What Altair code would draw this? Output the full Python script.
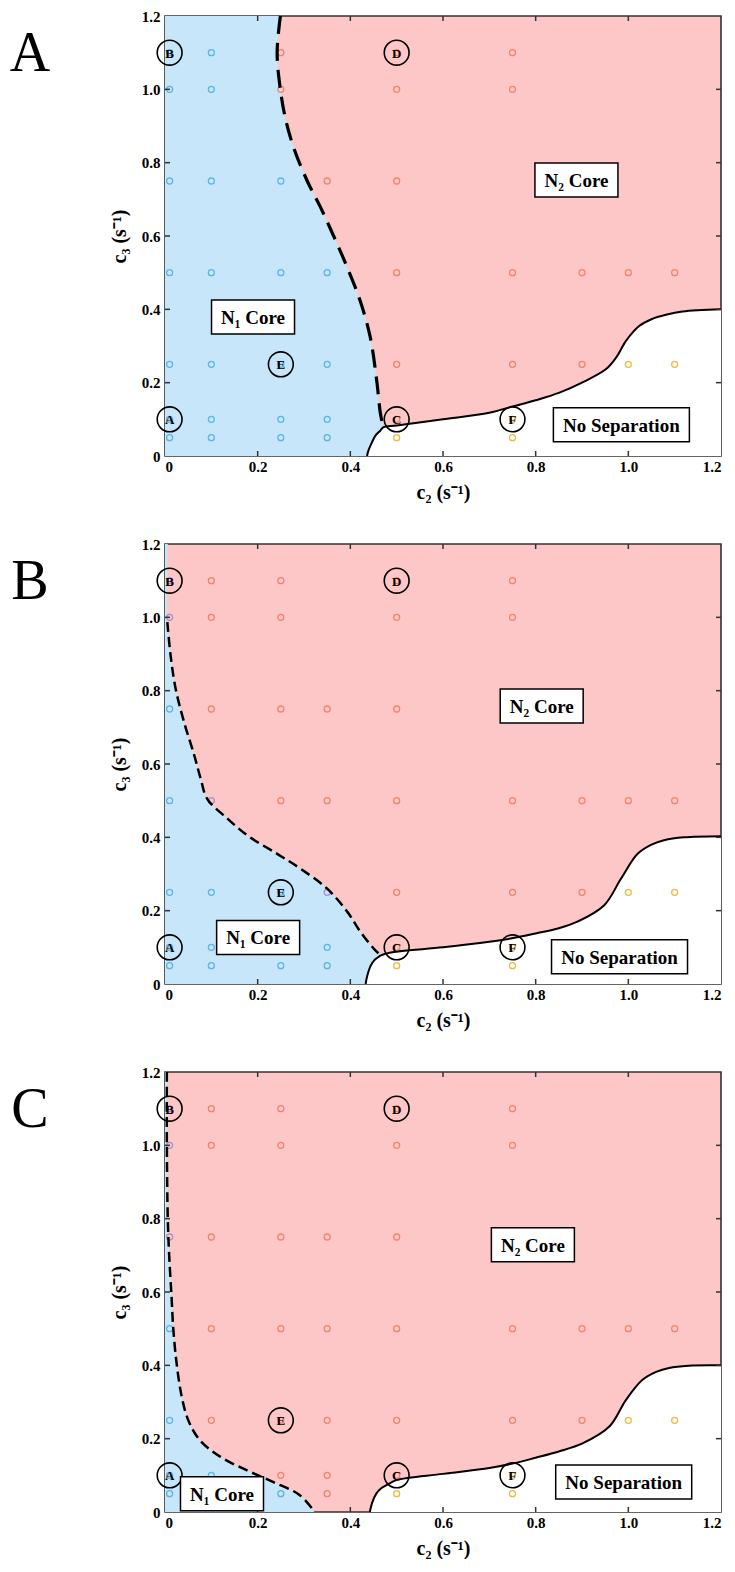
import altair as alt
import pandas as pd

# ---------------- data ----------------
axis_values = [0, 0.2, 0.4, 0.6, 0.8, 1.0, 1.2]
tick_values = [0.2, 0.4, 0.6, 0.8, 1.0]

# N1 / N2 boundary (dashed)
dash_A_c2 = [0.249, 0.242, 0.249, 0.26, 0.278, 0.307, 0.335, 0.371, 0.393, 0.421, 0.443, 0.457, 0.465, 0.471]
dash_A_c3 = [1.2, 1.1, 1.0, 0.92, 0.84, 0.75, 0.68, 0.58, 0.515, 0.424, 0.324, 0.205, 0.115, 0.078]
dash_B_c2 = [0.005, 0.012, 0.023, 0.041, 0.063, 0.077, 0.091, 0.135, 0.178, 0.242, 0.293, 0.35, 0.394, 0.422, 0.451, 0.466]
dash_B_c3 = [0.987, 0.897, 0.805, 0.715, 0.624, 0.56, 0.505, 0.451, 0.405, 0.355, 0.314, 0.26, 0.196, 0.142, 0.096, 0.078]
dash_C_c2 = [0.004, 0.004, 0.006, 0.009, 0.014, 0.018, 0.025, 0.036, 0.05, 0.075, 0.119, 0.176, 0.233, 0.291, 0.323]
dash_C_c3 = [1.2, 1.0, 0.8, 0.7, 0.589, 0.498, 0.406, 0.315, 0.251, 0.196, 0.151, 0.114, 0.082, 0.046, 0.0]

# extra vertices that close the N1 region (top / bottom)
n1_top_A_c2, n1_top_A_c3 = [], []
n1_bot_A_c2, n1_bot_A_c3 = [0.48], [0.0]
n1_top_B_c2, n1_top_B_c3 = [0.006], [1.2]
n1_bot_B_c2, n1_bot_B_c3 = [0.47], [0.0]
n1_top_C_c2, n1_top_C_c3 = [], []
n1_bot_C_c2, n1_bot_C_c3 = [], []

# separation boundary (solid) - below it: no separation
sep_A_c2 = [0.436, 0.439, 0.4466, 0.4538, 0.4645, 0.471, 0.5, 0.6, 0.7, 0.75, 0.8, 0.85, 0.9, 0.952, 0.974, 0.995, 1.024, 1.05, 1.081, 1.117, 1.2]
sep_A_c3 = [0.0, 0.0145, 0.037, 0.055, 0.069, 0.078, 0.083, 0.1, 0.118, 0.135, 0.152, 0.172, 0.2, 0.237, 0.269, 0.314, 0.355, 0.373, 0.385, 0.394, 0.40]
sep_B_c2 = [0.433, 0.436, 0.444, 0.452, 0.46, 0.466, 0.494, 0.6, 0.7, 0.746, 0.8, 0.85, 0.89, 0.948, 0.984, 1.02, 1.05, 1.077, 1.12, 1.2]
sep_B_c3 = [0.0, 0.02, 0.05, 0.065, 0.073, 0.078, 0.087, 0.1, 0.115, 0.124, 0.138, 0.152, 0.17, 0.215, 0.287, 0.355, 0.38, 0.392, 0.40, 0.403]
sep_C_c2 = [0.442, 0.447, 0.456, 0.466, 0.478, 0.499, 0.6, 0.7, 0.75, 0.8, 0.85, 0.901, 0.959, 0.995, 1.03, 1.06, 1.088, 1.13, 1.2]
sep_C_c3 = [0.0, 0.025, 0.05, 0.064, 0.073, 0.087, 0.104, 0.12, 0.132, 0.148, 0.165, 0.187, 0.233, 0.306, 0.36, 0.382, 0.393, 0.399, 0.40]

# simulation points
pt_c2 = [0.01, 0.1, 0.25, 0.5, 0.75,
         0.01, 0.1, 0.25, 0.5, 0.75,
         0.01, 0.1, 0.25, 0.35, 0.5,
         0.01, 0.1, 0.25, 0.35, 0.5, 0.75, 0.9, 1.0, 1.1,
         0.01, 0.1, 0.25, 0.35, 0.5, 0.75, 0.9, 1.0, 1.1,
         0.01, 0.1, 0.25, 0.35, 0.5, 0.75,
         0.01, 0.1, 0.25, 0.35, 0.5, 0.75]
pt_c3 = [1.1, 1.1, 1.1, 1.1, 1.1,
         1.0, 1.0, 1.0, 1.0, 1.0,
         0.75, 0.75, 0.75, 0.75, 0.75,
         0.5, 0.5, 0.5, 0.5, 0.5, 0.5, 0.5, 0.5, 0.5,
         0.25, 0.25, 0.25, 0.25, 0.25, 0.25, 0.25, 0.25, 0.25,
         0.1, 0.1, 0.1, 0.1, 0.1, 0.1,
         0.05, 0.05, 0.05, 0.05, 0.05, 0.05]
cls_A = ["N1", "N1", "N2", "N2", "N2",
         "N1", "N1", "N2", "N2", "N2",
         "N1", "N1", "N1", "N2", "N2",
         "N1", "N1", "N1", "N1", "N2", "N2", "N2", "N2", "N2",
         "N1", "N1", "N1", "N1", "N2", "N2", "N2", "NS", "NS",
         "N1", "N1", "N1", "N1", "N2", "NS",
         "N1", "N1", "N1", "N1", "NS", "NS"]
cls_B = ["MX", "N2", "N2", "N2", "N2",
         "MX", "N2", "N2", "N2", "N2",
         "N1", "N2", "N2", "N2", "N2",
         "N1", "MX", "N2", "N2", "N2", "N2", "N2", "N2", "N2",
         "N1", "N1", "N1", "MX", "N2", "N2", "N2", "NS", "NS",
         "N1", "N1", "N1", "N1", "N2", "NS",
         "N1", "N1", "N1", "N1", "NS", "NS"]
cls_C = ["MX", "N2", "N2", "N2", "N2",
         "MX", "N2", "N2", "N2", "N2",
         "MX", "N2", "N2", "N2", "N2",
         "N1", "N2", "N2", "N2", "N2", "N2", "N2", "N2", "N2",
         "N1", "N2", "N2", "N2", "N2", "N2", "N2", "NS", "NS",
         "N1", "N1", "N2", "N2", "N2", "NS",
         "N1", "N1", "N1", "N2", "NS", "NS"]
cls_domain = ["N1", "N2", "NS", "MX"]
cls_colors = ["#5db4e6", "#f0846f", "#f4b740", "#b38bc9"]

# circled case labels
mk_label = ["A", "B", "C", "D", "E", "F"]
mk_c2 = [0.01, 0.01, 0.5, 0.5, 0.25, 0.75]
mk_c3 = [0.1, 1.1, 0.1, 1.1, 0.25, 0.1]

# region label boxes
box_label = ["N\u2081 Core", "N\u2082 Core", "No Separation"]
box_kind = ["core", "core", "nosep"]
box_A_c2 = [0.19, 0.888, 0.985]
box_A_c3 = [0.379, 0.753, 0.085]
box_B_c2 = [0.201, 0.813, 0.981]
box_B_c3 = [0.127, 0.758, 0.074]
box_C_c2 = [0.123, 0.794, 0.99]
box_C_c3 = [0.05, 0.729, 0.082]

panel_letters = ["A", "B", "C"]

# ---------------- style ----------------
FONT = "Liberation Serif"
W, H = 556, 440
BLUE_FILL = "#c7e6fa"
PINK_FILL = "#fec7c7"
FRAME = "#333333"
CURVE = "catmull-rom"
dash_style = {"A": [18, 9], "B": [10, 5], "C": [10, 5]}
dash_width = {"A": 3.2, "B": 2.5, "C": 2.5}

xs = alt.Scale(domain=[0, 1.2], nice=False, zero=False)
ys = alt.Scale(domain=[0, 1.2], nice=False, zero=False)
label_expr = "datum.value == 0 ? '0' : format(datum.value, '.1f')"
x_axis = alt.Axis(values=axis_values, title="c\u2082 (s\u207b\u00b9)", labelExpr=label_expr)
y_axis = alt.Axis(values=axis_values, title="c\u2083 (s\u207b\u00b9)", labelExpr=label_expr)


def X():
    return alt.X("c2:Q", scale=xs, axis=x_axis)


def Y():
    return alt.Y("c3:Q", scale=ys, axis=y_axis)


def frame_df(c2, c3):
    return pd.DataFrame({"c2": c2, "c3": c3, "i": list(range(len(c2)))})


data = {
    "A": dict(dash=(dash_A_c2, dash_A_c3), top=(n1_top_A_c2, n1_top_A_c3), bot=(n1_bot_A_c2, n1_bot_A_c3),
              sep=(sep_A_c2, sep_A_c3), cls=cls_A, box=(box_A_c2, box_A_c3)),
    "B": dict(dash=(dash_B_c2, dash_B_c3), top=(n1_top_B_c2, n1_top_B_c3), bot=(n1_bot_B_c2, n1_bot_B_c3),
              sep=(sep_B_c2, sep_B_c3), cls=cls_B, box=(box_B_c2, box_B_c3)),
    "C": dict(dash=(dash_C_c2, dash_C_c3), top=(n1_top_C_c2, n1_top_C_c3), bot=(n1_bot_C_c2, n1_bot_C_c3),
              sep=(sep_C_c2, sep_C_c3), cls=cls_C, box=(box_C_c2, box_C_c3)),
}


def panel(key):
    d = data[key]
    df_dash = frame_df(*d["dash"])
    df_n1 = frame_df(d["top"][0] + d["dash"][0] + d["bot"][0], d["top"][1] + d["dash"][1] + d["bot"][1])
    df_sep = frame_df(*d["sep"])
    df_pts = pd.DataFrame({"c2": pt_c2, "c3": pt_c3, "cls": d["cls"]})
    df_mk = pd.DataFrame({"c2": mk_c2, "c3": mk_c3, "lab": mk_label})
    df_box = pd.DataFrame({"c2": d["box"][0], "c3": d["box"][1], "lab": box_label, "kind": box_kind})
    df_ticks = pd.DataFrame({"c2": tick_values, "c3": tick_values})
    df_letter = pd.DataFrame({"lab": [key]})

    n1 = alt.Chart(df_n1).mark_area(orient="horizontal", color=BLUE_FILL, opacity=1,
                                    interpolate=CURVE).encode(
        x=X(), x2=alt.datum(0), y=Y())
    white = alt.Chart(df_sep).mark_area(color="white", opacity=1, interpolate=CURVE).encode(
        x=X(), y=Y(), y2=alt.datum(0))
    pts = alt.Chart(df_pts).mark_point(shape="circle", filled=False, size=36, strokeWidth=1.3, opacity=1).encode(
        x=X(), y=Y(),
        color=alt.Color("cls:N", scale=alt.Scale(domain=cls_domain, range=cls_colors), legend=None))
    dash = alt.Chart(df_dash).mark_line(color="black", strokeWidth=dash_width[key], interpolate=CURVE,
                                        strokeDash=dash_style[key]).encode(x=X(), y=Y(), order="i:Q")
    sep = alt.Chart(df_sep).mark_line(color="black", strokeWidth=2, interpolate=CURVE).encode(
        x=X(), y=Y(), order="i:Q")
    tb = alt.Chart(df_ticks).mark_rule(color=FRAME, strokeWidth=1.5).encode(
        x=X(), y=alt.value(H), y2=alt.value(H - 5))
    tt = alt.Chart(df_ticks).mark_rule(color=FRAME, strokeWidth=1.5).encode(
        x=X(), y=alt.value(0), y2=alt.value(5))
    tl = alt.Chart(df_ticks).mark_rule(color=FRAME, strokeWidth=1.5).encode(
        y=Y(), x=alt.value(0), x2=alt.value(5))
    tr = alt.Chart(df_ticks).mark_rule(color=FRAME, strokeWidth=1.5).encode(
        y=Y(), x=alt.value(W), x2=alt.value(W - 5))
    mkc = alt.Chart(df_mk).mark_point(shape="circle", filled=False, size=616, color="black",
                                      strokeWidth=1.6, opacity=1).encode(x=X(), y=Y())
    mkt = alt.Chart(df_mk).mark_text(font=FONT, fontWeight="bold", fontSize=13, color="black",
                                     baseline="middle", dy=1).encode(x=X(), y=Y(), text="lab:N")
    box = alt.Chart(df_box).mark_point(filled=True, fill="white", stroke="black", strokeWidth=1.5,
                                       opacity=1, size=4).encode(
        x=X(), y=Y(),
        shape=alt.Shape("kind:N", scale=alt.Scale(
            domain=["core", "nosep"],
            range=["M-41.5,-17H41.5V17H-41.5Z", "M-68,-17H68V17H-68Z"]), legend=None))
    boxt = alt.Chart(df_box).mark_text(font=FONT, fontWeight="bold", fontSize=19, color="black",
                                       baseline="middle", dy=1).encode(x=X(), y=Y(), text="lab:N")
    letter = alt.Chart(df_letter).mark_text(font=FONT, fontSize=56, color="black", align="center",
                                            baseline="middle").encode(
        text="lab:N", x=alt.value(-135), y=alt.value(38))

    return alt.layer(n1, white, pts, dash, sep, tb, tt, tl, tr, mkc, mkt, box, boxt, letter).properties(
        width=W, height=H)


chart = alt.vconcat(*[panel(k) for k in panel_letters], spacing=33).properties(
    padding={"left": 0, "top": 0, "right": 0, "bottom": 0}
).configure_view(
    fill=PINK_FILL, stroke=FRAME, strokeWidth=1.6
).configure_axis(
    labelFont=FONT, labelFontWeight="bold", labelFontSize=15, labelColor="black",
    titleFont=FONT, titleFontWeight="bold", titleFontSize=20, titleColor="black",
    domain=False, ticks=False, grid=False
).configure_axisX(
    labelPadding=3, titlePadding=8
).configure_axisY(
    labelPadding=5, titlePadding=12
)

chart.save("out.html", embed_options={"renderer": "svg", "actions": False})
